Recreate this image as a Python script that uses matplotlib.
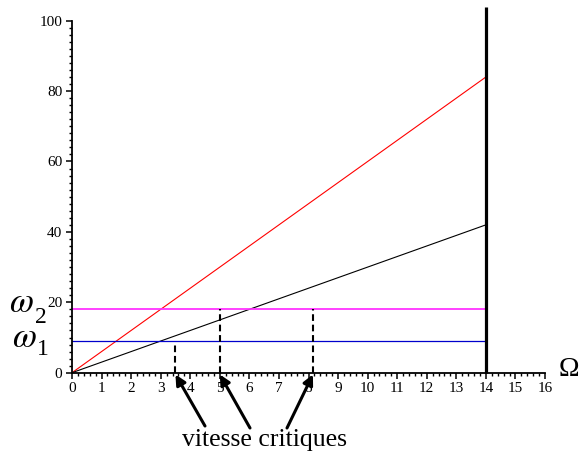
import matplotlib
matplotlib.use("Agg")
import matplotlib.pyplot as plt
from matplotlib.ticker import MultipleLocator

plt.rcParams['font.family'] = ['Liberation Serif', 'DejaVu Serif']
plt.rcParams['mathtext.fontset'] = 'stix'

# data
omega_max = 14
slope_red = 6      # red line: 6*Omega
slope_black = 3    # black line: 3*Omega
omega1 = 9
omega2 = 18
crit_x = [3.5, 5.0, 8.15]
crit_top = [8.5, 18, 18]
label_text = "vitesse critiques"

W, H = 583, 454
fig = plt.figure(figsize=(W / 100, H / 100), dpi=100)
ax = fig.add_axes([72 / W, 1 - 372.7 / H, 473 / W, 352 / H])

ax.plot([0, omega_max], [0, slope_red * omega_max], color='red', lw=0.8)
ax.plot([0, omega_max], [0, slope_black * omega_max], color='black', lw=0.8)
ax.plot([0, omega_max], [omega2, omega2], color='#ff33ff', lw=1.3)
ax.plot([0, omega_max], [omega1, omega1], color='#0000cc', lw=0.9)
ax.plot([omega_max, omega_max], [0, 104], color='black', lw=2.3, clip_on=False,
        solid_capstyle='butt')

for cx, ct in zip(crit_x, crit_top):
    ax.plot([cx, cx], [0, ct], color='black', lw=1.5, linestyle=(0, (3.2, 1.8)))

ax.set_xlim(0, 16)
ax.set_ylim(0, 100)
ax.spines['top'].set_visible(False)
ax.spines['right'].set_visible(False)
for s in ('left', 'bottom'):
    ax.spines[s].set_linewidth(1.3)
ax.xaxis.set_major_locator(MultipleLocator(1))
ax.xaxis.set_minor_locator(MultipleLocator(0.2))
ax.yaxis.set_major_locator(MultipleLocator(20))
ax.yaxis.set_minor_locator(MultipleLocator(2))
ax.tick_params(which='major', length=4, width=1.1, labelsize=11, pad=3, direction='out')
ax.tick_params(which='minor', length=2.5, width=1.0, direction='out')
ax.tick_params(axis='y', pad=3)

# arrows to critical speeds
tails = [(205, 426), (250, 428), (287, 428)]
for cx, (tx, ty) in zip(crit_x, tails):
    xt = (tx - 72) / 473 * 16
    yt = (372.7 - ty) / 352 * 100
    ax.annotate('', xy=(cx, -0.5), xytext=(xt, yt), xycoords='data', textcoords='data',
                annotation_clip=False,
                arrowprops=dict(arrowstyle='-|>', lw=2.2, color='black',
                                mutation_scale=15, shrinkA=0, shrinkB=0))

fig.text(265 / W, 1 - 440 / H, label_text, fontsize=18.5, ha='center', va='center')
fig.text(569 / W, 1 - 370 / H, 'Ω', fontsize=20, ha='center', va='center')

# omega labels (symbol + large subscript)
fig.text(9 / W, 1 - 312 / H, r'$\omega$', fontsize=25, ha='left', va='baseline')
fig.text(35 / W, 1 - 323 / H, '2', fontsize=17, ha='left', va='baseline')
fig.text(12 / W, 1 - 347 / H, r'$\omega$', fontsize=25, ha='left', va='baseline')
fig.text(37 / W, 1 - 355 / H, '1', fontsize=17, ha='left', va='baseline')

fig.savefig('out.png', dpi=100)
